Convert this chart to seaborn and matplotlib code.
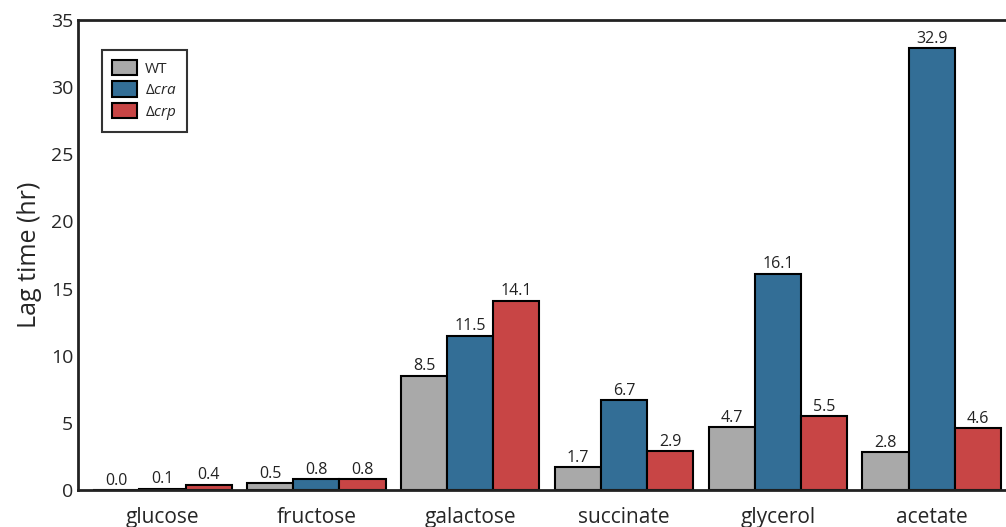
import pandas as pd
import seaborn as sns
import matplotlib.pyplot as plt

# Datos
sugars = ["glucose", "fructose", "galactose", "succinate", "glycerol", "acetate"]
wt = [0.0, 0.5, 8.5, 1.7, 4.7, 2.8]
cra = [0.1, 0.8, 11.5, 6.7, 16.1, 32.9]
crp = [0.4, 0.8, 14.1, 2.9, 5.5, 4.6]
strains = ["WT", r"$\Delta\mathit{cra}$", r"$\Delta\mathit{crp}$"]
colors = ["#a9a9a9", "#336e96", "#c84545"]

df = pd.DataFrame({
    "sugar": sugars * 3,
    "strain": [strains[0]] * 6 + [strains[1]] * 6 + [strains[2]] * 6,
    "lag": wt + cra + crp,
})

sns.set_theme(style="white")
plt.rcParams["font.family"] = ["Open Sans", "DejaVu Sans"]
plt.rcParams["mathtext.fontset"] = "custom"
plt.rcParams["mathtext.rm"] = "Open Sans"
plt.rcParams["mathtext.it"] = "Open Sans:italic"

fig = plt.figure(figsize=(10.06, 5.27), dpi=100)
# el eje derecho queda fuera de la imagen, como en el original
ax = fig.add_axes([0.0775, 0.0702, 0.945, 0.8918])

sns.barplot(data=df, x="sugar", y="lag", hue="strain", palette=colors,
            width=0.9, gap=0, edgecolor="black", linewidth=1.5,
            saturation=1, ax=ax, errorbar=None)

for cont in ax.containers:
    ax.bar_label(cont, fmt="%.1f", fontsize=11.5, color="#222222", padding=1)

ax.set_xlim(-0.55, 5.63)
ax.set_ylim(0, 35)
ax.set_yticks(range(0, 36, 5))
ax.set_xlabel("")
ax.set_ylabel("Lag time (hr)", fontsize=18, labelpad=6)
ax.tick_params(axis="y", labelsize=14, direction="in", length=5, width=1.5, color="#222222")
ax.tick_params(axis="x", labelsize=15, direction="in", length=3, width=1, pad=12)
for s in ax.spines.values():
    s.set_linewidth(2)
    s.set_color("#222222")

leg = ax.legend(loc="upper left", bbox_to_anchor=(0.017, 0.952), fontsize=11,
                frameon=True, fancybox=False, edgecolor="black",
                handlelength=1.65, handleheight=1.15, borderpad=0.65,
                labelspacing=0.3, handletextpad=0.5)
leg.get_frame().set_linewidth(1.5)

fig.savefig("out.png", dpi=100)
